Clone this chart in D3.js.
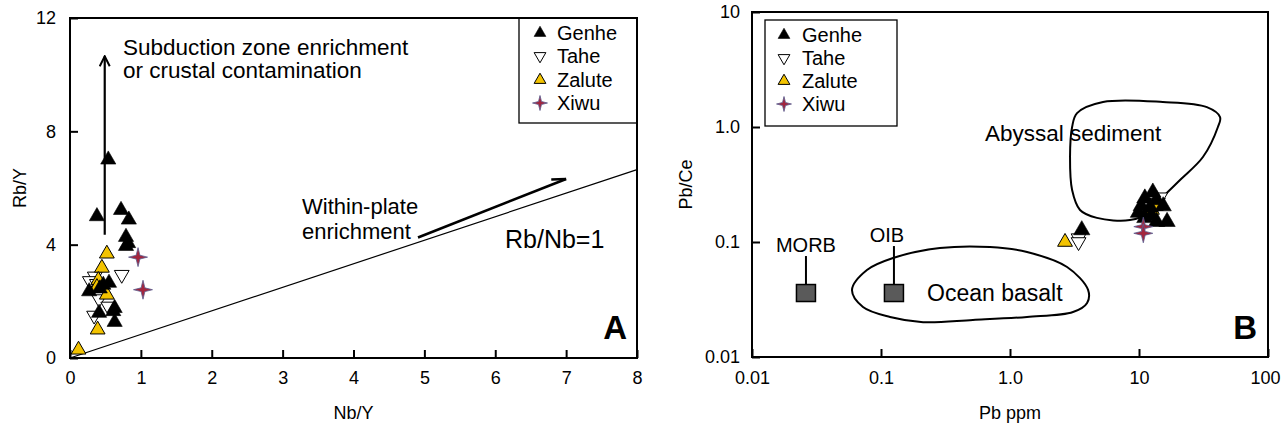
<!DOCTYPE html>
<html>
<head>
<meta charset="utf-8">
<script src="https://cdn.jsdelivr.net/npm/d3@7"></script>
<style>
  html, body { margin: 0; padding: 0; background: #fff; }
  svg { display: block; font-family: "Liberation Sans", Arial, Helvetica, sans-serif; }
</style>
</head>
<body>
<svg id="chart" width="1281" height="427"></svg>
<script>
// ---- Panel A: Rb/Y vs Nb/Y ----
const genheA  = [[0.54,7.0],[0.38,5.0],[0.72,5.22],[0.83,4.88],[0.79,4.27],[0.82,4.05],[0.79,3.95],
                 [0.55,2.65],[0.47,2.58],[0.42,2.45],[0.27,2.35],[0.63,1.76],[0.61,1.65],[0.41,1.59],[0.63,1.27]];
const taheA   = [[0.73,2.94],[0.35,2.88],[0.28,2.72],[0.38,2.62],[0.41,2.08],[0.54,1.82],[0.34,1.5]];
const zaluteA = [[0.52,3.68],[0.45,3.18],[0.40,2.75],[0.38,2.5],[0.52,2.23],[0.39,1.0],[0.12,0.29]];
const xiwuA   = [[0.96,3.56],[1.03,2.41]];

const rbNbLine         = [[0,0],[8,6.65]];
const subductionArrow  = [[0.49,4.35],[0.49,10.65]];
const withinPlateArrow = [[4.91,4.25],[7.0,6.32]];

const ticksAX = [0,1,2,3,4,5,6,7,8];
const ticksAY = [0,4,8,12];

// ---- Panel B: Pb/Ce vs Pb ----
const genheB  = [[12.8,0.27],[11.1,0.24],[13.7,0.232],[10.4,0.205],[15.4,0.205],[9.9,0.18],[11.1,0.162],
                 [13.7,0.15],[16.5,0.15],[12.2,0.2],[12.5,0.17],[3.6,0.127]];
const taheB   = [[3.4,0.108],[3.4,0.1],[14.0,0.22],[14.6,0.245]];
const zaluteB = [[2.67,0.1],[12.6,0.19],[13.5,0.205]];
const xiwuB   = [[10.8,0.136],[10.8,0.119]];

const references = [
  { name: "MORB", pb: 0.0262, pbce: 0.036, labelTop: 0.0755 },
  { name: "OIB",  pb: 0.126,  pbce: 0.036, labelTop: 0.0922 }
];

const abyssalOutline = [[3.31,1.32],[5.26,1.65],[15.3,1.65],[33.6,1.49],[42.5,1.22],[40.9,1.0],[31.3,0.548],
  [20.8,0.346],[15.3,0.246],[12.2,0.182],[8.5,0.155],[4.72,0.162],[3.49,0.19],[3.03,0.283],[2.92,0.548],[3.03,1.0]];
const oceanBasaltOutline = [[0.0596,0.0383],[0.0778,0.0571],[0.124,0.0726],[0.286,0.0887],[0.70,0.0905],
  [1.355,0.0818],[2.77,0.0606],[4.03,0.0383],[3.96,0.0295],[3.08,0.0246],[1.355,0.0223],[0.516,0.021],
  [0.212,0.0201],[0.1175,0.0223],[0.0725,0.0272]];

const ticksBX = [0.01,0.1,1,10,100];
const ticksBXLabels = ["0.01","0.1","1.0","10","100"];
const ticksBY = [0.01,0.1,1,10];
const ticksBYLabels = ["0.01","0.1","1.0","10"];

const seriesNames = ["Genhe","Tahe","Zalute","Xiwu"];

// ---- shared styling ----
const YELLOW = "#f3c300";
const STAR_FILL = "#a3263e";
const STAR_EDGE = "#5a5c8e";

// four-pointed star marker
const star4 = {
  draw(ctx, size) {
    const r = Math.sqrt(size) * 0.75, ri = r * 0.28;
    for (let i = 0; i < 8; i++) {
      const a = i * Math.PI / 4 - Math.PI / 2;
      const rr = i % 2 ? ri : r;
      const x = rr * Math.cos(a), y = rr * Math.sin(a);
      if (i) ctx.lineTo(x, y); else ctx.moveTo(x, y);
    }
    ctx.closePath();
  }
};

const styles = {
  Genhe:  { type: d3.symbolTriangle, rot: 0,   fill: "#000", stroke: "#000", sw: 0.6 },
  Tahe:   { type: d3.symbolTriangle, rot: 180, fill: "#fff", stroke: "#000", sw: 1 },
  Zalute: { type: d3.symbolTriangle, rot: 0,   fill: YELLOW, stroke: "#000", sw: 1 },
  Xiwu:   { type: star4,             rot: 0,   fill: STAR_FILL, stroke: STAR_EDGE, sw: 0.8 }
};

const svg = d3.select("#chart");
svg.append("rect").attr("width", 1281).attr("height", 427).attr("fill", "#fff");

function drawPoints(g, data, name, xs, ys, size) {
  const st = styles[name];
  g.append("g").selectAll("path").data(data).join("path")
    .attr("d", d3.symbol().type(st.type).size(size))
    .attr("transform", d => `translate(${xs(d[0])},${ys(d[1])}) rotate(${st.rot})`)
    .attr("fill", st.fill).attr("stroke", st.stroke).attr("stroke-width", st.sw);
}

function drawLegend(g, x, y, w, h, symX, textX, rows) {
  g.append("rect").attr("x", x).attr("y", y).attr("width", w).attr("height", h)
    .attr("fill", "#fff").attr("stroke", "#000").attr("stroke-width", 1.3);
  seriesNames.forEach((n, i) => {
    const st = styles[n];
    g.append("path")
      .attr("d", d3.symbol().type(st.type).size(n === "Xiwu" ? 100 : 60))
      .attr("transform", `translate(${symX},${rows[i]}) rotate(${st.rot})`)
      .attr("fill", st.fill).attr("stroke", st.stroke).attr("stroke-width", st.sw);
    g.append("text").attr("x", textX).attr("y", rows[i]).attr("dy", "0.36em")
      .attr("font-size", 20).text(n);
  });
}

function styleAxis(sel) {
  sel.select(".domain").remove();
  sel.selectAll(".tick line").attr("stroke", "#000").attr("stroke-width", 2);
  sel.selectAll(".tick text").attr("font-size", 18).attr("fill", "#000")
    .attr("font-family", "'Liberation Sans', Arial, sans-serif");
}

// arrowheads
const defs = svg.append("defs");
defs.append("marker").attr("id", "openHead").attr("viewBox", "0 0 12 12")
  .attr("refX", 11).attr("refY", 6).attr("markerWidth", 12).attr("markerHeight", 12)
  .attr("markerUnits", "userSpaceOnUse").attr("orient", "auto")
  .append("path").attr("d", "M1,1 L11,6 L1,11").attr("fill", "none").attr("stroke", "#000").attr("stroke-width", 2);
defs.append("marker").attr("id", "halfHead").attr("viewBox", "0 0 16 10")
  .attr("refX", 15).attr("refY", 7).attr("markerWidth", 16).attr("markerHeight", 10)
  .attr("markerUnits", "userSpaceOnUse").attr("orient", "auto")
  .append("path").attr("d", "M1,2 L15,7").attr("fill", "none").attr("stroke", "#000").attr("stroke-width", 2.5);

// ===================== Panel A =====================
const xA = d3.scaleLinear().domain([0, 8]).range([70, 637]);
const yA = d3.scaleLinear().domain([0, 12]).range([358, 18]);
const gA = svg.append("g");

gA.append("g").attr("transform", `translate(0,${yA(0)})`)
  .call(d3.axisBottom(xA).tickValues(ticksAX).tickSize(-8).tickPadding(13).tickFormat(d3.format("d")))
  .call(styleAxis);
gA.append("g").attr("transform", `translate(${xA(0)},0)`)
  .call(d3.axisLeft(yA).tickValues(ticksAY).tickSize(-8).tickPadding(14).tickFormat(d3.format("d")))
  .call(styleAxis);

const lineA = d3.line().x(d => xA(d[0])).y(d => yA(d[1]));
gA.append("path").attr("d", lineA(rbNbLine)).attr("stroke", "#000").attr("stroke-width", 1.2).attr("fill", "none");
gA.append("path").attr("d", lineA(subductionArrow)).attr("stroke", "#000").attr("stroke-width", 2.2)
  .attr("fill", "none").attr("marker-end", "url(#openHead)");
gA.append("path").attr("d", lineA(withinPlateArrow)).attr("stroke", "#000").attr("stroke-width", 2.6)
  .attr("fill", "none").attr("marker-end", "url(#halfHead)");

drawPoints(gA, taheA, "Tahe", xA, yA, 95);
drawPoints(gA, zaluteA, "Zalute", xA, yA, 95);
drawPoints(gA, genheA, "Genhe", xA, yA, 100);
drawPoints(gA, xiwuA, "Xiwu", xA, yA, 160);

gA.append("text").attr("x", 123).attr("y", 55).attr("font-size", 22.5).text("Subduction zone enrichment");
gA.append("text").attr("x", 123).attr("y", 78).attr("font-size", 22.5).text("or crustal contamination");
gA.append("text").attr("x", 302).attr("y", 214).attr("font-size", 22).text("Within-plate");
gA.append("text").attr("x", 302).attr("y", 239).attr("font-size", 22).text("enrichment");
gA.append("text").attr("x", 505).attr("y", 248).attr("font-size", 25).text("Rb/Nb=1");
gA.append("text").attr("x", 627).attr("y", 339).attr("font-size", 33).attr("font-weight", "bold")
  .attr("text-anchor", "end").text("A");

drawLegend(gA, 519, 18, 118, 105, 540, 557, [33, 56, 80, 103]);

gA.append("rect").attr("x", xA(0)).attr("y", yA(12)).attr("width", xA(8) - xA(0)).attr("height", yA(0) - yA(12))
  .attr("fill", "none").attr("stroke", "#000").attr("stroke-width", 2);

gA.append("text").attr("transform", `translate(26,${(yA(0) + yA(12)) / 2}) rotate(-90)`)
  .attr("text-anchor", "middle").attr("font-size", 18).text("Rb/Y");
gA.append("text").attr("x", (xA(0) + xA(8)) / 2).attr("y", 419).attr("text-anchor", "middle")
  .attr("font-size", 18).text("Nb/Y");

// ===================== Panel B =====================
const xB = d3.scaleLog().domain([0.01, 100]).range([752, 1268]);
const yB = d3.scaleLog().domain([0.01, 10]).range([357, 12]);
const gB = svg.append("g");

const xAxisB = gB.append("g").attr("transform", `translate(0,${yB(0.01)})`)
  .call(d3.axisBottom(xB).tickValues(ticksBX).tickSize(-8).tickPadding(14)
    .tickFormat((d, i) => ticksBXLabels[i]))
  .call(styleAxis);
// keep the last label inside the page edge
xAxisB.selectAll(".tick").filter(d => d === 100).select("text")
  .attr("text-anchor", "end").attr("x", 12);
gB.append("g").attr("transform", `translate(${xB(0.01)},0)`)
  .call(d3.axisLeft(yB).tickValues(ticksBY).tickSize(-8).tickPadding(12)
    .tickFormat((d, i) => ticksBYLabels[i]))
  .call(styleAxis);

const outline = d3.line().x(d => xB(d[0])).y(d => yB(d[1])).curve(d3.curveCatmullRomClosed.alpha(0.5));
gB.append("path").attr("d", outline(abyssalOutline)).attr("fill", "none").attr("stroke", "#000").attr("stroke-width", 2);
gB.append("path").attr("d", outline(oceanBasaltOutline)).attr("fill", "none").attr("stroke", "#000").attr("stroke-width", 2);

gB.append("text").attr("x", 985).attr("y", 141).attr("font-size", 22.5).text("Abyssal sediment");
gB.append("text").attr("x", 927).attr("y", 301).attr("font-size", 23).text("Ocean basalt");

references.forEach((r, i) => {
  const cx = xB(r.pb), cy = yB(r.pbce), top = yB(r.labelTop);
  gB.append("line").attr("x1", cx).attr("x2", cx).attr("y1", cy - 9).attr("y2", top)
    .attr("stroke", "#000").attr("stroke-width", 2);
  gB.append("rect").attr("x", cx - 9.5).attr("y", cy - 8.5).attr("width", 19).attr("height", 17)
    .attr("fill", "#5a5a5a").attr("stroke", "#000").attr("stroke-width", 1.5);
  gB.append("text").attr("x", cx + (i === 1 ? -7 : 0)).attr("y", top - 4).attr("text-anchor", "middle")
    .attr("font-size", 20).text(r.name);
});

drawPoints(gB, taheB, "Tahe", xB, yB, 95);
drawPoints(gB, zaluteB, "Zalute", xB, yB, 95);
drawPoints(gB, genheB, "Genhe", xB, yB, 115);
drawPoints(gB, xiwuB, "Xiwu", xB, yB, 160);

drawLegend(gB, 765, 20, 132, 106, 784, 802, [35, 58, 81, 104]);

gB.append("text").attr("x", 1257).attr("y", 339).attr("font-size", 33).attr("font-weight", "bold")
  .attr("text-anchor", "end").text("B");

gB.append("rect").attr("x", xB(0.01)).attr("y", yB(10)).attr("width", xB(100) - xB(0.01)).attr("height", yB(0.01) - yB(10))
  .attr("fill", "none").attr("stroke", "#000").attr("stroke-width", 2);

gB.append("text").attr("transform", `translate(692,${(yB(0.01) + yB(10)) / 2}) rotate(-90)`)
  .attr("text-anchor", "middle").attr("font-size", 18).text("Pb/Ce");
gB.append("text").attr("x", (xB(0.01) + xB(100)) / 2).attr("y", 419).attr("text-anchor", "middle")
  .attr("font-size", 18).text("Pb ppm");
</script>
</body>
</html>
